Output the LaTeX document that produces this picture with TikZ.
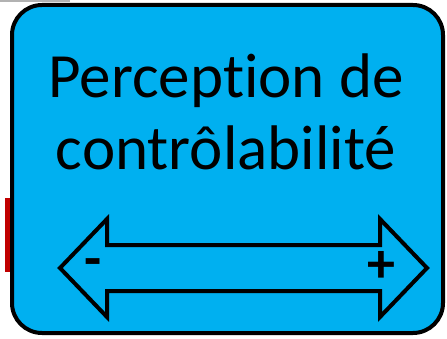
\documentclass[tikz,border=0pt]{standalone}
\usepackage{fontspec}
\setmainfont[Ligatures=NoCommon]{Carlito}
\usetikzlibrary{calc}

\definecolor{cyanbox}{RGB}{0,176,240}
\definecolor{redbar}{RGB}{192,0,0}

\begin{document}
\begin{tikzpicture}[x=1pt,y=-1pt]
    % Cadre de l'image
    \useasboundingbox (0,0) rectangle (447,339);

    % Morceaux coupés au bord
    \fill[gray!60] (0,0) rectangle (70,2);
    \fill[redbar] (5,198) rectangle (11,272);

    % Boîte principale
    \draw[line width=4pt, fill=cyanbox, rounded corners=30pt] (12,5) rectangle (443,333);

    % Titre
    \node[font=\fontsize{63}{72}\selectfont, align=center, anchor=base] (titre) at (226,170)
        {Perception de\\contrôlabilité};

    % Double flèche
    \coordinate (G) at (60,268);
    \coordinate (D) at (427,268);
    \draw[line width=4pt, line join=miter, fill=cyanbox]
        (G) -- (107,219) -- (107,245) -- (380,245) -- (380,219) -- (D)
        -- (380,317) -- (380,291) -- (107,291) -- (107,317) -- cycle;

    % Signes
    \node[font=\fontsize{56}{56}\bfseries\selectfont, inner sep=0pt] (moins) at (93,268) {-};
    \node[font=\fontsize{56}{56}\bfseries\selectfont, inner sep=0pt] (plus) at (381,267) {+};
\end{tikzpicture}
\end{document}
